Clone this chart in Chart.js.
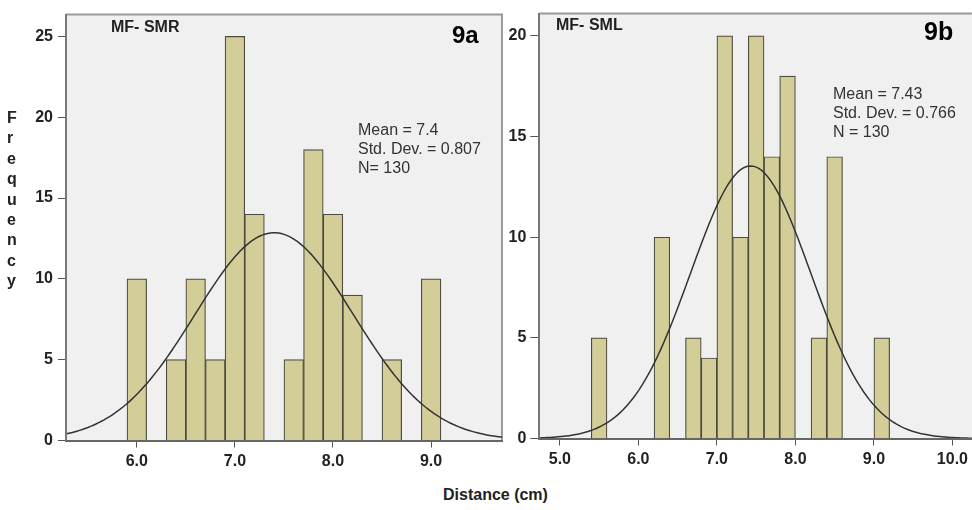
<!DOCTYPE html>
<html>
<head>
<meta charset="utf-8">
<title>MF distance histograms</title>
<script src="https://cdn.jsdelivr.net/npm/chart.js@4.4.0/dist/chart.umd.min.js"></script>
<style>
  body { margin: 0; background: #fff; }
  #wrap { position: relative; width: 972px; height: 510px; overflow: hidden; }
  canvas { position: absolute; top: 0; }
  #chartA { left: 0; }
  #chartB { left: 505px; }
  #xtitle { position: absolute; left: 443px; top: 487px; font: bold 16px "Liberation Sans", Arial, sans-serif;
            line-height: 16px; color: #222; white-space: nowrap; }
</style>
</head>
<body>
<div id="wrap">
  <canvas id="chartA" width="505" height="480"></canvas>
  <canvas id="chartB" width="467" height="480"></canvas>
  <div id="xtitle">Distance (cm)</div>
</div>
<script>
// histogram bins are 0.2 cm wide: lower edge of each bin and its count
var binWidth = 0.2;
var smrBinStart = [5.9, 6.1, 6.3, 6.5, 6.7, 6.9, 7.1, 7.3, 7.5, 7.7, 7.9, 8.1, 8.3, 8.5, 8.7, 8.9];
var smrCounts   = [10,  0,   5,   10,  5,   25,  14,  0,   5,   18,  14,  9,   0,   5,   0,   10];
var smlBinStart = [5.4, 5.6, 5.8, 6.0, 6.2, 6.4, 6.6, 6.8, 7.0, 7.2, 7.4, 7.6, 7.8, 8.0, 8.2, 8.4, 8.6, 8.8, 9.0];
var smlCounts   = [5,   0,   0,   0,   10,  0,   5,   4,   20,  10,  20,  14,  18,  0,   5,   14,  0,   0,   5];

// summary statistics printed on each panel
var smrStats = {mean: 7.4, sd: 0.807, n: 130};
var smlStats = {mean: 7.43, sd: 0.766, n: 130};
var smrStatLines = ['Mean = 7.4', 'Std. Dev. = 0.807', 'N= 130'];
var smlStatLines = ['Mean = 7.43', 'Std. Dev. = 0.766', 'N = 130'];

// tick labels
var smrXTicks = [6, 7, 8, 9];
var smlXTicks = [5, 6, 7, 8, 9, 10];
var smrYTicks = [0, 5, 10, 15, 20, 25];
var smlYTicks = [0, 5, 10, 15, 20];

var FONT = '"Liberation Sans", Arial, sans-serif';

function barPoints(starts, counts) {
    var pts = [];
    for (var i = 0; i < starts.length; i++) {
        if (counts[i] > 0)
            pts.push({x: starts[i] + binWidth / 2, y: counts[i]});
    }
    return pts;
}

// fitted normal curve scaled to the histogram (count per bin)
function normalCurve(stats, from, to) {
    var pts = [];
    var steps = 160;
    for (var i = 0; i <= steps; i++) {
        var x = from + (to - from) * i / steps;
        var z = (x - stats.mean) / stats.sd;
        pts.push({x: x, y: stats.n * binWidth * Math.exp(-z * z / 2) / (stats.sd * Math.sqrt(2 * Math.PI))});
    }
    return pts;
}

// grey plot background, frame and the panel annotations
var panelDeco = {
    id: 'panelDeco',
    beforeDraw: function(chart, args, o) {
        var a = chart.chartArea, ctx = chart.ctx;
        ctx.save();
        ctx.fillStyle = '#f0f0f0';
        ctx.fillRect(a.left, a.top, a.right - a.left, a.bottom - a.top);
        ctx.strokeStyle = '#9a9a9a';
        ctx.lineWidth = 2;
        ctx.beginPath();
        ctx.moveTo(a.left, a.top);
        ctx.lineTo(a.right, a.top);
        if (o.rightEdge)
            ctx.lineTo(a.right, a.bottom);
        ctx.stroke();
        ctx.restore();
    },
    afterDraw: function(chart, args, o) {
        var ctx = chart.ctx;
        ctx.save();
        ctx.textBaseline = 'alphabetic';
        ctx.textAlign = 'left';
        (o.notes || []).forEach(function(n) {
            ctx.font = n.font;
            ctx.fillStyle = n.color;
            ctx.fillText(n.text, n.x, n.y);
        });
        ctx.restore();
    }
};

function makeHistogram(id, cfg) {
    var xTicks = cfg.xTicks, yTicks = cfg.yTicks;
    return new Chart(document.getElementById(id), {
        type: 'bar',
        data: {
            datasets: [{
                type: 'line',
                data: normalCurve(cfg.stats, cfg.xMin, cfg.xMax),
                borderColor: '#333333',
                borderWidth: 1.5,
                pointRadius: 0,
                tension: 0,
                fill: false
            }, {
                type: 'bar',
                data: barPoints(cfg.starts, cfg.counts),
                backgroundColor: '#d3ce98',
                borderColor: '#4c4b3e',
                borderWidth: 1.2,
                barPercentage: 1,
                categoryPercentage: 1
            }]
        },
        options: {
            responsive: false,
            animation: false,
            layout: {padding: cfg.padding},
            plugins: {
                legend: {display: false},
                tooltip: {enabled: false},
                panelDeco: {rightEdge: cfg.rightEdge, notes: cfg.notes}
            },
            scales: {
                x: {
                    type: 'linear',
                    offset: false,
                    min: cfg.xMin,
                    max: cfg.xMax,
                    afterBuildTicks: function(s) {
                        s.ticks = xTicks.map(function(v) { return {value: v}; });
                    },
                    afterFit: function(s) { s.height = cfg.xAxisHeight; },
                    grid: {display: true, offset: false, drawOnChartArea: false, drawTicks: true,
                           tickLength: 7, color: '#555', lineWidth: 1},
                    border: {display: true, color: '#666', width: 2, z: 1},
                    ticks: {
                        autoSkip: false, maxRotation: 0, padding: 4, color: '#222',
                        font: {family: FONT, size: 16, weight: 'bold'},
                        callback: function(v) { return Number(v).toFixed(1); }
                    }
                },
                y: {
                    min: 0,
                    max: cfg.yMax,
                    afterBuildTicks: function(s) {
                        s.ticks = yTicks.map(function(v) { return {value: v}; });
                    },
                    afterFit: function(s) { s.width = cfg.yAxisWidth; },
                    grid: {display: true, drawOnChartArea: false, drawTicks: true,
                           tickLength: cfg.yTickLength, color: '#555', lineWidth: 1},
                    border: {display: true, color: '#777', width: 2, z: 1},
                    ticks: {
                        autoSkip: false, padding: cfg.yTickPad, color: '#222',
                        font: {family: FONT, size: 16, weight: 'bold'}
                    }
                }
            }
        },
        plugins: [panelDeco]
    });
}

function statNotes(lines, x, y0) {
    return lines.map(function(t, i) {
        return {text: t, x: x, y: y0 + i * 19.2, font: '16px ' + FONT, color: '#333'};
    });
}

// left panel: MF- SMR (9a), vertical "Frequency" title drawn in the same canvas
var smrNotes = [
    {text: 'MF- SMR', x: 111, y: 31.5, font: 'bold 16px ' + FONT, color: '#222'},
    {text: '9a', x: 452, y: 42.5, font: 'bold 24px ' + FONT, color: '#000'}
].concat(statNotes(smrStatLines, 358, 135));
'Frequency'.split('').forEach(function(ch, i) {
    smrNotes.push({text: ch, x: 7, y: 123 + i * 20.4, font: 'bold 16px ' + FONT, color: '#222'});
});

makeHistogram('chartA', {
    starts: smrBinStart, counts: smrCounts, stats: smrStats,
    xMin: 5.278, xMax: 9.723, yMax: 26.35,
    xTicks: smrXTicks, yTicks: smrYTicks,
    padding: {top: 8, right: 3, left: 0, bottom: 0},
    yAxisWidth: 66, xAxisHeight: 39.5,
    yTickLength: 8, yTickPad: 5,
    rightEdge: true,
    notes: smrNotes
});

// right panel: MF- SML (9b); canvas starts at x = 505
makeHistogram('chartB', {
    starts: smlBinStart, counts: smlCounts, stats: smlStats,
    xMin: 4.738, xMax: 10.248, yMax: 21.11,
    xTicks: smlXTicks, yTicks: smlYTicks,
    padding: {top: 5.5, right: 0, left: 0, bottom: 0},
    yAxisWidth: 34.3, xAxisHeight: 41.5,
    yTickLength: 9, yTickPad: 4,
    rightEdge: false,
    notes: [
        {text: 'MF- SML', x: 51, y: 29.5, font: 'bold 16px ' + FONT, color: '#222'},
        {text: '9b', x: 419, y: 39.5, font: 'bold 25px ' + FONT, color: '#000'}
    ].concat(statNotes(smlStatLines, 328, 99))
});
</script>
</body>
</html>
